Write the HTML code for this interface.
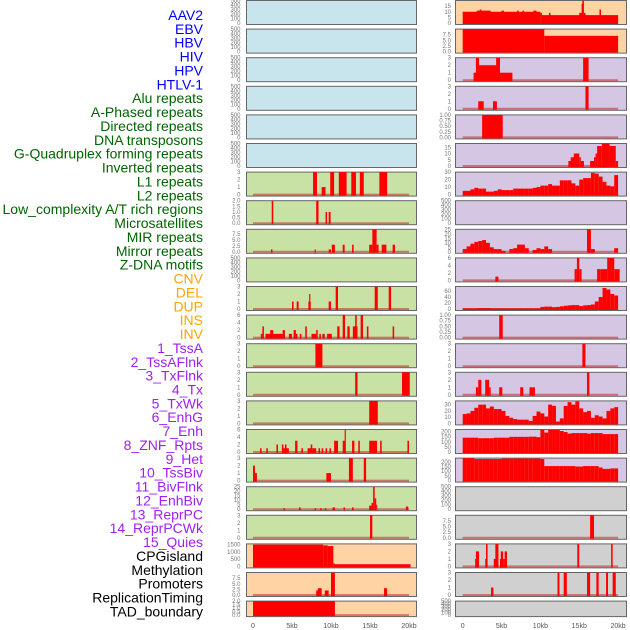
<!DOCTYPE html>
<html><head><meta charset="utf-8"><style>
html,body{margin:0;padding:0;background:#fff;}
svg{display:block;font-family:"Liberation Sans",sans-serif;}
</style></head><body>
<svg id="chart" width="630" height="630" viewBox="0 0 630 630" xmlns="http://www.w3.org/2000/svg"></svg>
<script>
// ---- labels ----
const trackLabels = ["AAV2","EBV","HBV","HIV","HPV","HTLV-1","Alu repeats","A-Phased repeats","Directed repeats","DNA transposons","G-Quadruplex forming repeats","Inverted repeats","L1 repeats","L2 repeats","Low_complexity A/T rich regions","Microsatellites","MIR repeats","Mirror repeats","Z-DNA motifs","CNV","DEL","DUP","INS","INV","1_TssA","2_TssAFlnk","3_TxFlnk","4_Tx","5_TxWk","6_EnhG","7_Enh","8_ZNF_Rpts","9_Het","10_TssBiv","11_BivFlnk","12_EnhBiv","13_ReprPC","14_ReprPCWk","15_Quies","CPGisland","Methylation","Promoters","ReplicationTiming","TAD_boundary"];
const labelColors = ["#0000ff","#0000ff","#0000ff","#0000ff","#0000ff","#0000ff","#006400","#006400","#006400","#006400","#006400","#006400","#006400","#006400","#006400","#006400","#006400","#006400","#006400","#ffa500","#ffa500","#ffa500","#ffa500","#ffa500","#a020f0","#a020f0","#a020f0","#a020f0","#a020f0","#a020f0","#a020f0","#a020f0","#a020f0","#a020f0","#a020f0","#a020f0","#a020f0","#a020f0","#a020f0","#000","#000","#000","#000","#000"];
const xTickKb = [0,5,10,15,20];
const xTickLabels = ["0","5kb","10kb","15kb","20kb"];
const emptyTicks = [0,100,200,300,400,500];

// ---- left column segments [startKb,endKb,value] ----
const L6 = [[7.7,8.2,3],[8.8,9.3,1],[9.9,10.4,3],[11,12,3],[12.6,13.2,3],[13.7,14.2,3],[16.2,17.2,3]];
const L7 = [[2.4,2.6,2],[8.1,8.4,2],[9.3,9.5,1],[9.7,9.95,1]];
const L8 = [[2.3,2.5,1],[7.9,8.05,1],[9.7,10,1],[10.1,10.5,3],[11.5,11.75,3],[12.7,12.9,3],[14.9,15.3,3],[15.3,15.85,9.4],[15.85,16.1,3],[16.5,17.1,3],[17.9,18.2,3]];
const L10 = [[5,5.2,1],[5.6,5.85,1],[7.1,7.4,1],[7.2,7.35,2],[9.7,10,1],[10.6,10.9,3],[15.6,16,3],[17.4,17.7,3]];
const L11 = [[1.0,1.2,1],[1.2,1.4,3],[1.6,3.8,1],[2.2,2.6,2],[3.8,4.1,2],[4.6,5.0,1],[5.2,5.5,2],[5.5,5.7,1],[6.0,6.2,1],[6.7,6.9,3],[7.5,8.1,1],[8.1,8.3,2],[8.5,8.7,1],[8.9,9.2,1],[9.5,10.1,1],[10.8,11.1,3],[11.5,11.8,6],[12.1,12.4,3],[12.8,13.4,3],[13.1,13.3,6],[13.8,14.1,6],[14.6,14.8,3],[17.9,18.1,3]];
const L12 = [[8,8.9,3]];
const L13 = [[13.1,13.4,3],[19.1,20.1,3]];
const L14 = [[14.9,16,3]];
const L15 = [[0.9,1.1,1],[1.7,1.9,1],[3.0,3.2,2],[3.7,3.9,2],[4.1,4.3,2],[3.9,4.6,1],[5.4,5.7,3],[6.2,6.4,1],[7.0,7.6,1],[7.4,7.6,2],[7.6,8.1,1],[8.4,8.6,1],[8.8,9.0,1],[9.3,9.5,1],[9.8,10.0,1],[10.4,10.9,3],[11.5,11.8,3],[11.75,11.9,6],[12.7,13.0,3],[13.5,13.7,3],[14.9,15.9,3],[16.3,16.5,3],[19.8,20.0,3]];
const L16 = [[0,0.25,2],[0.25,0.5,1],[9.4,10,1],[12.3,12.8,3],[14.2,14.5,3]];
const L17 = [[3.9,4.1,1],[5.9,6.1,2],[7.9,8.1,1],[8.6,8.8,1],[9.2,9.4,1],[10.2,10.5,2],[11.6,11.8,2],[12.7,12.9,2],[14.9,15.2,4],[15.2,15.4,7],[15.4,15.6,25],[15.6,15.8,12],[15.8,15.9,5],[19.6,19.9,3]];
const L18 = [[15.0,15.3,3]];
const L19 = [[0,9.0,1500],[9.0,9.6,1450],[9.6,10.3,1400],[10.3,10.5,200],[10.5,20.2,150]];
const L20 = [[8.1,8.4,2],[8.3,8.8,3],[9.2,9.7,2],[10.0,10.5,10],[16.8,17.2,3]];
const L21 = [[0,10.5,2]];

// ---- right column ----
const R0 = [[0,10.0,10],[1.8,3.6,11],[2.2,2.4,12],[5,5.3,11],[7,7.2,11],[7.7,7.9,11],[9.1,9.5,11],[10.0,10.2,9],[10.2,20,7],[11.1,11.3,9],[15.0,15.4,9],[15.3,15.5,17],[15.4,15.6,20],[15.6,15.8,9],[17.6,17.8,12]];
const R1 = [[0,10.5,10],[10.5,20,7]];
const R2 = [[1.4,2.1,1],[1.7,2.1,3],[2.1,4.8,2],[4.3,4.8,3],[4.8,6.4,1],[15.5,16.2,3]];
const R3 = [[2.0,2.7,1],[3.9,4.4,1],[15.8,16.2,3]];
const R4 = [[2.5,5.15,1]];
const R5 = [[13.6,14.3,4],[13.9,14.5,7],[14.3,15.0,10],[15.0,15.2,7],[15.2,15.6,4],[16.4,16.9,4],[16.9,17.1,7],[17.1,17.3,10],[17.3,17.9,16],[17.9,18.9,18],[18.9,19.7,16],[19.7,20,4]];
// half-kb bins
const R6bins = [5,5,7,9,8,8,4,4,5,7,6,6,6,8,8,8,8,8,9,10,12,12,14,12,12,19,19,19,15,12,20,22,22,29,28,24,17,12,11,26];
const R8bins = [3,6,9,11,12,13,10,5,3,3,1,0,3,4,8,8,4,0,2,4,3,6,3,0,0,0,0,0,0,0,0,0,25,3,0,0,0,0,0,4];
const R9 = [[4.2,4.6,1],[14.4,14.7,3],[14.7,15.0,6],[15.0,15.3,3],[17.3,17.7,3],[17.7,18.6,3],[18.6,19.5,6],[19.5,20.2,3]];
const R10bins = [2,2,2,2,3,3,3,2,2,2,2,2,2,2,2,2,2,2,2,2,7,8,8,6,7,9,11,12,13,13,10,12,13,15,25,40,70,65,50,45];
const R11 = [[4.7,5.15,1]];
const R12 = [[15.4,15.8,3]];
const R13 = [[1.7,2.0,1],[2.0,2.4,2],[2.9,3.4,2],[3.4,3.6,1],[4.7,5.1,1],[7.4,7.8,1],[8.6,9.3,1],[16.0,16.3,3]];
const R14bins = [15,16,20,25,30,30,24,27,23,23,20,12,9,7,6,6,6,4,12,19,16,11,30,28,3,8,28,34,30,35,24,18,20,9,13,11,8,20,24,26];
const R15bins = [140,140,140,140,135,135,135,135,140,140,140,140,148,148,148,148,148,150,150,145,220,190,215,215,215,205,195,180,185,185,185,185,180,185,185,185,175,175,175,175];
const R16bins = [240,240,240,230,230,230,230,230,230,230,235,235,235,235,235,235,235,235,235,235,230,155,155,155,155,155,155,155,155,150,150,155,155,155,155,140,125,125,130,130];
const R18 = [[16.4,16.9,10]];
const R19 = [[1.6,1.8,1],[1.7,2.1,2],[2.9,3.2,1],[3.0,3.2,3],[4.0,4.3,1],[4.2,4.6,3],[4.8,5.0,1],[4.9,5.2,2],[5.2,5.4,1],[5.4,5.7,2],[14.75,15.0,3],[19.1,19.3,3]];
const R20 = [[3.65,3.95,1],[12.2,12.45,3],[13.0,13.4,3],[16.0,16.4,3],[17.2,17.5,3],[18.45,18.7,3],[19.3,19.7,3]];

const T3=[0,1,2,3], T25=[0,2.5,5,7.5], T2=[0,0.5,1,1.5,2], T6=[0,2,4,6], TQ=[0,0.25,0.5,0.75,1];
const BLUE="#c8e4ec", GREEN="#c8e2a6", ORANGE="#ffd3a3", LAV="#d5c6e3", GRAY="#d0d0d0";
// panel: col,row,bg,ymax,ticks,segs|bins
const panels = [
 [0,0,BLUE],[0,1,BLUE],[0,2,BLUE],[0,3,BLUE],[0,4,BLUE],[0,5,BLUE],
 [0,6,GREEN,3,T3,L6],[0,7,GREEN,2,T2,L7],[0,8,GREEN,9.5,T25,L8],[0,9,GREEN],
 [0,10,GREEN,3,T3,L10],[0,11,GREEN,6,T6,L11],[0,12,GREEN,3,T3,L12],[0,13,GREEN,3,T3,L13],
 [0,14,GREEN,3,T3,L14],[0,15,GREEN,6,T6,L15],[0,16,GREEN,3,T3,L16],[0,17,GREEN,25,[0,5,10,15,20,25],L17],
 [0,18,GREEN,3,T3,L18],[0,19,ORANGE,1550,[0,500,1000,1500],L19],[0,20,ORANGE,10,T25,L20],[0,21,ORANGE,2,T2,L21],
 [1,0,ORANGE,20,[0,5,10,15],R0],[1,1,ORANGE,10,T25,R1],[1,2,LAV,3,T3,R2],[1,3,LAV,3,T3,R3],
 [1,4,LAV,1,TQ,R4],[1,5,LAV,18,[0,5,10,15],R5],[1,6,LAV,30,[0,10,20,30],null,R6bins],[1,7,LAV],
 [1,8,LAV,25,[0,5,10,15,20,25],null,R8bins],[1,9,LAV,6,T6,R9],[1,10,LAV,75,[0,20,40,60],null,R10bins],
 [1,11,LAV,1,TQ,R11],[1,12,LAV,3,T3,R12],[1,13,LAV,3,T3,R13],[1,14,LAV,36,[0,10,20,30],null,R14bins],
 [1,15,LAV,220,[0,50,100,150,200],null,R15bins],[1,16,LAV,240,[0,50,100,150,200],null,R16bins],[1,17,GRAY],
 [1,18,GRAY,10,T25,R18],[1,19,GRAY,3,T3,R19],[1,20,GRAY,3,T3,R20],[1,21,GRAY]
];

const NS="http://www.w3.org/2000/svg";
const svg=document.getElementById('chart');
function mk(tag,attrs,parent){const e=document.createElementNS(NS,tag);for(const k in attrs)e.setAttribute(k,attrs[k]);(parent||svg).appendChild(e);return e;}
const colGeom=[{px0:246,px1:416,x0:253,ppk:7.8,tickX:240.5},{px0:455,px1:626,x0:462.7,ppk:7.77,tickX:451}];
function xScale(col,kb){return colGeom[col].x0+kb*colGeom[col].ppk;}
function rowTop(r){return r*28.6;}
function rowH(r){return r===21?16.5:25;}
function yScale(r,ymax,v){const b=rowTop(r)+rowH(r)-2;return b-(v/ymax)*(rowH(r)-2.5);}
function decimals(arr){let d=0;arr.forEach(v=>{const s=String(v);const i=s.indexOf('.');if(i>=0)d=Math.max(d,s.length-i-1);});return d;}

// labels
trackLabels.forEach((t,i)=>{
  const e=mk('text',{x:203,y:15+i*13.87+5,'text-anchor':'end','font-size':14,fill:labelColors[i]});
  
  
  e.textContent=t;
});

panels.forEach(p=>{
  const [col,row,bg,ymax,ticks,segs,bins]=p;
  const g=colGeom[col], top=rowTop(row), h=rowH(row);
  const grp=mk('g',{});
  
  
  const r=mk('rect',{x:g.px0+0.5,y:top+0.5,width:g.px1-g.px0,height:h-1,fill:bg,stroke:'#666','stroke-width':1},grp);
  
  
  const ym = ymax||500, tk = ticks||emptyTicks;
  const dec = decimals(tk);
  tk.forEach(v=>{
    const t=mk('text',{x:g.tickX,y:yScale(row,ym,v)+2,'text-anchor':'end','font-size':6,fill:'#777'},grp);
    
    
    t.textContent=v.toFixed(dec);
  });
  if(!ymax) return;
  const y0=yScale(row,ymax,0);
  const base=mk('line',{x1:xScale(col,0),x2:xScale(col,20),y1:y0,y2:y0,stroke:'rgba(190,40,40,0.55)','stroke-width':2},grp);
  
  
  let list=segs;
  if(bins){list=bins.map((v,i)=>[i*0.5,i*0.5+0.5,v]);}
  list.forEach(s=>{
    if(s[2]<=0) return;
    const x1=xScale(col,s[0]), x2=xScale(col,s[1]), y=yScale(row,ymax,s[2]);
    const b=mk('rect',{x:x1,y:y,width:Math.max(1,x2-x1),height:y0-y+1,fill:'#ff0000'},grp);
    
    
  });
});

// x axis ticks
[0,1].forEach(col=>{
  xTickKb.forEach((k,i)=>{
    const t=mk('text',{x:xScale(col,k),y:628,'text-anchor':'middle','font-size':7,fill:'#555'});
    
    
    t.textContent=xTickLabels[i];
  });
});
</script>
</body></html>
